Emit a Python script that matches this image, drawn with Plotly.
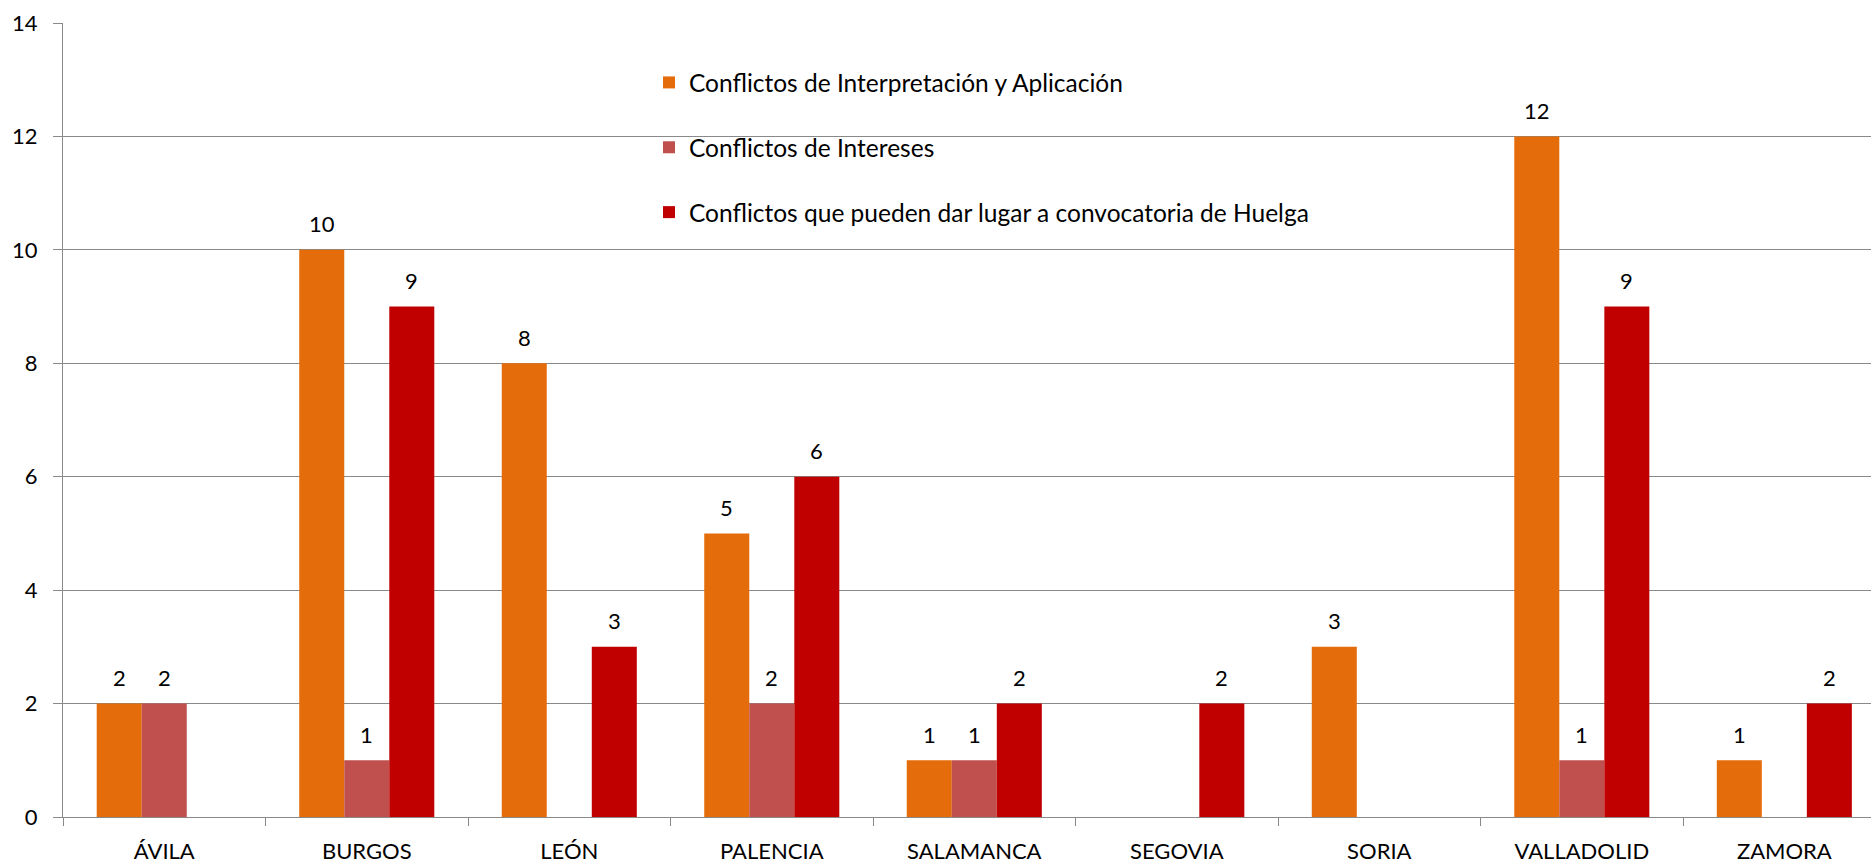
import plotly.graph_objects as go

provincias = ["ÁVILA", "BURGOS", "LEÓN", "PALENCIA", "SALAMANCA", "SEGOVIA", "SORIA", "VALLADOLID", "ZAMORA"]
interpretacion = [2, 10, 8, 5, 1, None, 3, 12, 1]
intereses = [2, 1, None, 2, 1, None, None, 1, None]
huelga = [None, 9, 3, 6, 2, 2, None, 9, 2]

series_names = [
    "Conflictos de Interpretación y Aplicación",
    "Conflictos de Intereses",
    "Conflictos que pueden dar lugar a convocatoria de Huelga",
]
series_values = [interpretacion, intereses, huelga]
colors = ["#E46C0A", "#C0504D", "#C00000"]

FONT = "Lato"
FS = 22
GRID = "#898989"
BARGAP = 0.333

fig = go.Figure()
for i, (name, vals, col) in enumerate(zip(series_names, series_values, colors)):
    fig.add_trace(go.Bar(
        x=provincias, y=vals, name=name,
        marker=dict(color=col, line=dict(width=0)),
        legendgroup=f"g{i}",
        hoverinfo="skip",
    ))

w = (1 - BARGAP) / 3
annotations = []
for i, vals in enumerate(series_values):
    for idx, v in enumerate(vals):
        if v is None:
            continue
        annotations.append(dict(
            x=idx + (i - 1) * w, y=v, xref="x", yref="y",
            text=str(v), showarrow=False,
            yanchor="middle", yshift=26,
            font=dict(family=FONT, size=FS, color="#000000"),
        ))

fig.update_layout(
    width=1871, height=865,
    margin=dict(l=63, r=0, t=23, b=48, pad=0),
    paper_bgcolor="white", plot_bgcolor="white",
    barmode="group", bargap=BARGAP, bargroupgap=0,
    font=dict(family=FONT, size=FS, color="#000000"),
    showlegend=True,
    legend=dict(
        x=(649 - 63) / 1808, y=(817 - 60) / 794, xanchor="left", yanchor="top",
        traceorder="grouped", tracegroupgap=30,
        bgcolor="rgba(0,0,0,0)",
        font=dict(family=FONT, size=24.5, color="#000000"),
    ),
    annotations=annotations,
    xaxis=dict(
        type="category", range=[-0.5, 8.428],
        showgrid=False, showline=True, linecolor=GRID, linewidth=1,
        ticks="outside", tickson="boundaries", ticklen=8, tickcolor=GRID, tickwidth=1,
        tickfont=dict(family=FONT, size=FS, color="#000000"),
        ticklabelstandoff=15,
        zeroline=False,
    ),
    yaxis=dict(
        range=[0, 14], dtick=2, tick0=0,
        showgrid=True, gridcolor=GRID, gridwidth=1,
        showline=True, linecolor=GRID, linewidth=1,
        ticks="outside", ticklen=9, tickcolor=GRID, tickwidth=1,
        tickfont=dict(family=FONT, size=FS, color="#000000"),
        ticklabelstandoff=11,
        zeroline=False,
    ),
)

fig.write_html(
    "out.html",
    config={"displayModeBar": False},
    post_script="document.body.style.margin='0';document.body.style.padding='0';document.body.style.overflow='hidden';",
)
